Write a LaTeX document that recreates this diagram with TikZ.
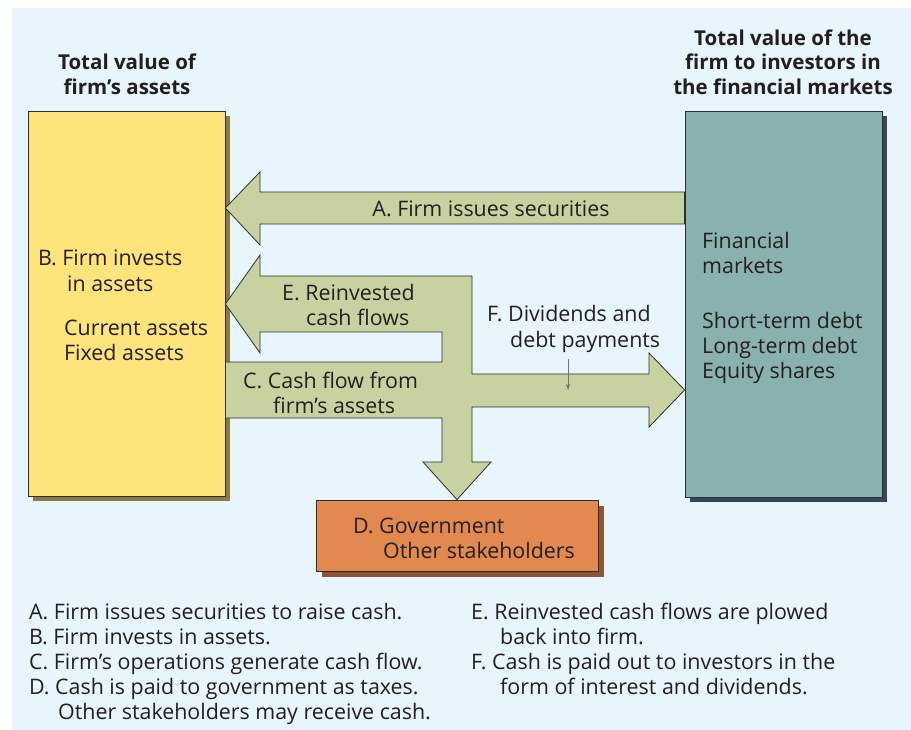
\documentclass[tikz,border=0pt]{standalone}
\usepackage{fontspec}
\setmainfont{Open Sans}
\usepackage{tikz}
\usetikzlibrary{
arrows.meta,
shadows
}
\definecolor{cfbg}{HTML}{E8F5FC}
\definecolor{cfline}{HTML}{2E2E2E}
\definecolor{cftext}{HTML}{231F20}
\definecolor{cfyellow}{HTML}{FFE47C}
\definecolor{cfyshade}{HTML}{8C7A45}
\definecolor{cfteal}{HTML}{88B1B0}
\definecolor{cftshade}{HTML}{34475E}
\definecolor{cforange}{HTML}{E1894F}
\definecolor{cfoshade}{HTML}{8B5634}
\definecolor{cfgreen}{HTML}{C6D3A1}

\begin{document}
\begin{tikzpicture}[
  x=1pt, y=-1pt,
  box/.style={draw=cfline, line width=0.8pt, inner sep=0pt},
  flow/.style={draw=cfline, line width=0.8pt, fill=cfgreen, line join=miter},
  lbl/.style={inner sep=0pt, anchor=base west, text=cftext, font=\fontsize{21.4}{25}\selectfont},
  clbl/.style={lbl, anchor=base},
  head/.style={clbl, font=\fontsize{20.5}{25}\selectfont\bfseries},
  pointer/.style={draw=black!55, line width=0.6pt, -{Stealth[length=6pt, width=4pt]}},
  >=Stealth
]
  \useasboundingbox (0,0) rectangle (911,730);
  \fill[cfbg] (12,8) rectangle (911,730);

  % Boxes
  \node[box, fill=cfyellow, minimum width=197pt, minimum height=385pt,
    drop shadow={fill=cfyshade, opacity=1, shadow xshift=5pt, shadow yshift=-5pt}] (assets) at (126.5,303.5) {};
  \node[box, fill=cfteal, minimum width=197pt, minimum height=386pt,
    drop shadow={fill=cftshade, opacity=1, shadow xshift=5pt, shadow yshift=-5pt}] (markets) at (783.5,304) {};
  \node[box, fill=cforange, minimum width=282pt, minimum height=71pt,
    drop shadow={fill=cfoshade, opacity=1, shadow xshift=6pt, shadow yshift=-6pt}] (govt) at (457,535.5) {};

  % Arrow A
  \draw[flow] (assets.east |- 0,208) -- (260,172) -- (260,192) -- (markets.west |- 0,192)
    -- (markets.west |- 0,224) -- (260,224) -- (260,245) -- cycle;

  % Arrows C, D, E, F
  \draw[flow] (assets.east |- 0,304) -- (260,255) -- (260,276) -- (472,276) -- (472,374)
    -- (649,374) -- (649,353) -- (markets.west |- 0,390) -- (649,427) -- (649,407)
    -- (472,407) -- (472,462) -- (491,462) -- (govt.north) -- (423,462) -- (442,462)
    -- (442,418) -- (assets.east |- 0,418) -- (assets.east |- 0,362) -- (442,362)
    -- (442,332) -- (260,332) -- (260,353) -- cycle;

  \coordinate (ftop) at (568,359);
  \coordinate (fmark) at (568,390);
  \draw[pointer] (ftop) -- (fmark);

  % Headings
  \node[head] (hl1) at (127,70) {Total value of};
  \node[head] (hl2) at (127,95) {firm’s assets};
  \node[head] (hr1) at (783,46) {Total value of the};
  \node[head] (hr2) at (783,70) {firm to investors in};
  \node[head] (hr3) at (783,95) {the financial markets};

  % Labels on the diagram
  \node[clbl] (la) at (491,217) {A. Firm issues securities};

  \node[lbl] (lb1) at (38,266) {B. Firm invests};
  \node[lbl] (lb2) at (67,291) {in assets};
  \node[lbl] (lb3) at (64,335) {Current assets};
  \node[lbl] (lb4) at (64,360) {Fixed assets};

  \node[lbl] (le1) at (282,301) {E. Reinvested};
  \node[lbl] (le2) at (306,326) {cash flows};

  \node[lbl] (lc1) at (243,388) {C. Cash flow from};
  \node[lbl] (lc2) at (273,413) {firm’s assets};

  \node[lbl] (lf1) at (487,322) {F. Dividends and};
  \node[lbl] (lf2) at (510,347) {debt payments};

  \node[lbl] (lm1) at (702,249) {Financial};
  \node[lbl] (lm2) at (702,274) {markets};
  \node[lbl] (lm3) at (702,328) {Short-term debt};
  \node[lbl] (lm4) at (702,353) {Long-term debt};
  \node[lbl] (lm5) at (702,378) {Equity shares};

  \node[lbl] (ld1) at (353,533) {D. Government};
  \node[lbl] (ld2) at (383,558) {Other stakeholders};

  % Key
  \node[lbl] (k1) at (29,619) {A. Firm issues securities to raise cash.};
  \node[lbl] (k2) at (29,644) {B. Firm invests in assets.};
  \node[lbl] (k3) at (29,669) {C. Firm’s operations generate cash flow.};
  \node[lbl] (k4) at (29,694) {D. Cash is paid to government as taxes.};
  \node[lbl] (k5) at (58,719) {Other stakeholders may receive cash.};
  \node[lbl] (k6) at (471,619) {E. Reinvested cash flows are plowed};
  \node[lbl] (k7) at (500,644) {back into firm.};
  \node[lbl] (k8) at (471,669) {F. Cash is paid out to investors in the};
  \node[lbl] (k9) at (500,694) {form of interest and dividends.};

\end{tikzpicture}
\end{document}
